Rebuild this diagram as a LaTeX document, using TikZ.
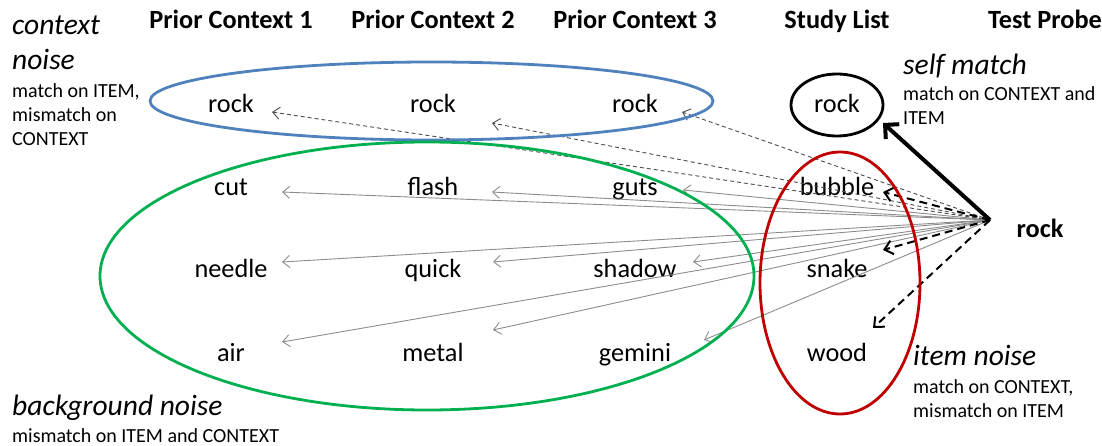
\documentclass[tikz,border=0pt]{standalone}
\usepackage{fontspec}
\setmainfont{Carlito}
\usetikzlibrary{arrows.meta,calc}
\definecolor{ctxblue}{HTML}{4F81BD}
\definecolor{bggreen}{HTML}{00B050}
\definecolor{itemred}{HTML}{C00000}
\begin{document}
\begin{tikzpicture}[x=1pt,y=-1pt,
  word/.style={anchor=base,inner sep=0pt,font=\fontsize{26.3}{31}\selectfont},
  head/.style={anchor=base,inner sep=0pt,font=\fontsize{26.3}{31}\selectfont\bfseries},
  tag/.style={anchor=base west,inner sep=0pt,font=\fontsize{29.5}{35}\selectfont\itshape},
  note/.style={anchor=base west,inner sep=0pt,font=\fontsize{20}{24}\selectfont},
  ctxarrow/.style={dash pattern=on 4pt off 3pt, draw=black!70, line width=0.9pt,
    -{Straight Barb[length=7pt,width=12pt]}},
  bgarrow/.style={draw=black!45, line width=0.9pt,
    -{Straight Barb[length=7pt,width=12pt]}},
  itemarrow/.style={dash pattern=on 8pt off 5pt, line width=2pt,
    -{Straight Barb[length=8pt,width=14pt]}},
  selfarrow/.style={line width=4pt, -{Straight Barb[length=10pt,width=20pt]}},
  ring/.style={line width=2.8pt},
]
\useasboundingbox (0,0) rectangle (1102,446);

% column headers
\node[head] (h1) at (231,29) {Prior Context 1};
\node[head] (h2) at (433,29) {Prior Context 2};
\node[head] (h3) at (635,29) {Prior Context 3};
\node[head] (h4) at (837,29) {Study List};
\node[head] (h5) at (1045,29) {Test Probe};

% prior context 1
\node[word] (r1) at (231,113) {rock};
\node[word] (cut) at (231,196) {cut};
\node[word] (needle) at (231,277) {needle};
\node[word] (air) at (231,361) {air};
% prior context 2
\node[word] (r2) at (433,113) {rock};
\node[word] (flash) at (433,196) {flash};
\node[word] (quick) at (433,277) {quick};
\node[word] (metal) at (433,361) {metal};
% prior context 3
\node[word] (r3) at (635,113) {rock};
\node[word] (guts) at (635,196) {guts};
\node[word] (shadow) at (635,277) {shadow};
\node[word] (gemini) at (635,361) {gemini};
% study list
\node[word] (s0) at (837,113) {rock};
\node[word] (bubble) at (837,196) {bubble};
\node[word] (snake) at (837,277) {snake};
\node[word] (wood) at (837,361) {wood};
% test probe
\node[word,font=\fontsize{26.3}{31}\selectfont\bfseries] (probe) at (1040,237) {rock};
\coordinate (P) at (990,220);

% labels
\node[tag] (cn1) at (12,35) {context};
\node[tag] (cn2) at (12,70) {noise};
\node[note] (cn3) at (12,98) {match on ITEM,};
\node[note] (cn4) at (12,122) {mismatch on};
\node[note] (cn5) at (12,146) {CONTEXT};

\node[tag] (sm1) at (903,75) {self match};
\node[note] (sm2) at (903,101) {match on CONTEXT and};
\node[note] (sm3) at (903,125) {ITEM};

\node[tag] (in1) at (913,365) {item noise};
\node[note] (in2) at (913,393) {match on CONTEXT,};
\node[note] (in3) at (913,417) {mismatch on ITEM};

\node[tag] (bn1) at (12,415) {background noise};
\node[note] (bn2) at (12,442) {mismatch on ITEM and CONTEXT};

% background noise: other items from prior contexts
\draw[bgarrow] (P) -- ([shift={(51,-4)}]cut.base);
\draw[bgarrow] (P) -- ([shift={(59,-4)}]flash.base);
\draw[bgarrow] (P) -- ([shift={(48,-6)}]guts.base);
\draw[bgarrow] (P) -- ([shift={(51,-15)}]needle.base);
\draw[bgarrow] (P) -- ([shift={(60,-15)}]quick.base);
\draw[bgarrow] (P) -- ([shift={(58,-15)}]shadow.base);
\draw[bgarrow] (P) -- ([shift={(51,-19)}]air.base);
\draw[bgarrow] (P) -- ([shift={(60,-31)}]metal.base);
\draw[bgarrow] (P) -- ([shift={(69,-21)}]gemini.base);

% context noise: the probe item in prior contexts
\draw[ctxarrow] (P) -- ([shift={(41,-1)}]r1.base);
\draw[ctxarrow] (P) -- ([shift={(59,10)}]r2.base);
\draw[ctxarrow] (P) -- ([shift={(47,-1)}]r3.base);

% item noise: other study-list items
\draw[itemarrow] (P) -- ([shift={(46,-4)}]bubble.base);
\draw[itemarrow] (P) -- ([shift={(46,-27)}]snake.base);
\draw[itemarrow] (P) -- ([shift={(36,-33)}]wood.base);

% self match
\draw[selfarrow] (P) -- ([shift={(46,10)}]s0.base);

% groupings
\draw[ring,ctxblue] (431.5,101) ellipse [x radius=281.5, y radius=39];
\draw[ring,bggreen] (427,276) ellipse [x radius=327, y radius=134];
\draw[ring,itemred] (840,283) ellipse [x radius=80, y radius=131];
\draw[ring,black] (837,105) ellipse [x radius=46, y radius=31];
\end{tikzpicture}
\end{document}
